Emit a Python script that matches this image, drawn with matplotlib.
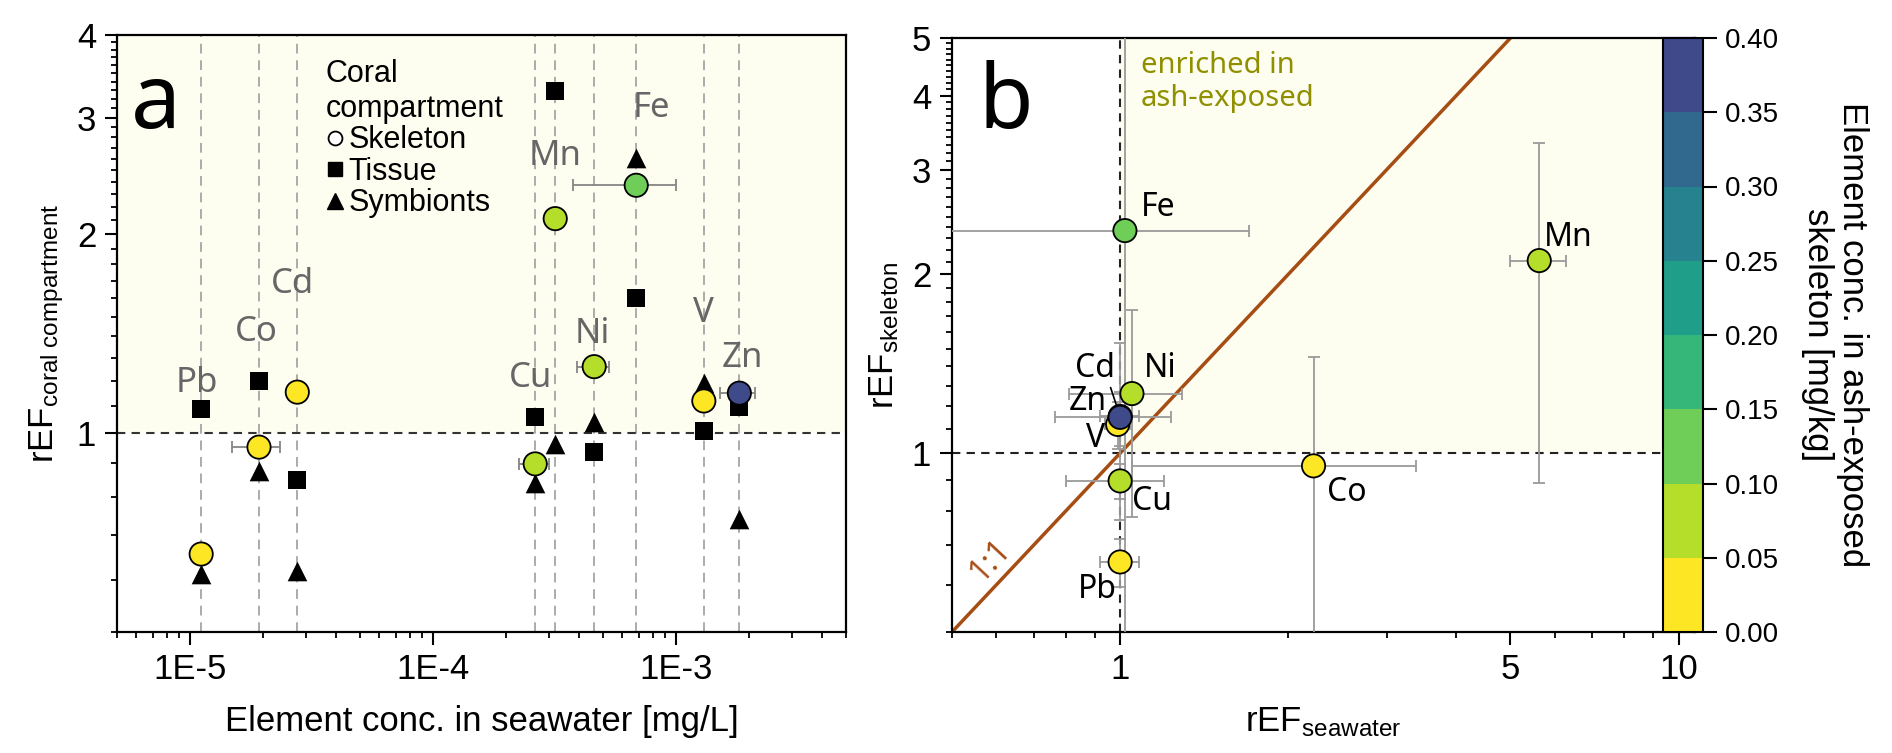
import numpy as np
import matplotlib.pyplot as plt
import matplotlib.cm as cm
from matplotlib.colors import ListedColormap, BoundaryNorm
from matplotlib.lines import Line2D
from matplotlib.patches import Rectangle
from matplotlib.ticker import FixedLocator, FixedFormatter, NullFormatter, FormatStrFormatter

plt.rcParams['font.family'] = ['Liberation Sans', 'DejaVu Sans']
plt.rcParams['mathtext.fontset'] = 'custom'
plt.rcParams['mathtext.rm'] = 'Liberation Sans'
plt.rcParams['mathtext.it'] = 'Liberation Sans:italic'

# data
elements = ['Pb', 'Co', 'Cd', 'Cu', 'Mn', 'Ni', 'Fe', 'V', 'Zn']
sw_conc = [1.11e-5, 1.92e-5, 2.76e-5, 2.63e-4, 3.18e-4, 4.60e-4, 6.85e-4, 1.30e-3, 1.82e-3]
sw_conc_err = [0, 0.43e-5, 0, 0.38e-4, 0, 0.7e-4, 3.1e-4, 0, 0.3e-3]
ref_skeleton = [0.656, 0.952, 1.153, 0.898, 2.11, 1.26, 2.37, 1.118, 1.149]
ref_tissue = [1.087, 1.20, 0.849, 1.057, 3.29, 0.936, 1.60, 1.007, 1.095]
ref_symbionts = [0.612, 0.876, 0.618, 0.84, 0.962, 1.04, 2.61, 1.19, 0.741]
skel_conc = [0.02, 0.03, 0.01, 0.07, 0.08, 0.09, 0.12, 0.04, 0.38]   # mg/kg

# panel b
ref_seawater = [1.0, 2.22, 1.0, 1.0, 5.63, 1.05, 1.02, 0.99, 1.0]
ref_seawater_err = [0.08, 1.17, 0.08, 0.2, 0.65, 0.24, 0.68, 0.05, 0.235]
ref_skeleton_err = [0.06, 0.5, 0.38, 0.06, 1.22, 0.48, 3.0, 0.1, 0.12]
one_to_one = [0.5, 5]

# label positions
label_a_y = [1.19, 1.42, 1.68, 1.21, 2.62, 1.41, 3.10, 1.52, 1.30]
label_a_x = [1.07e-5, 1.87e-5, 2.63e-5, 2.51e-4, 3.18e-4, 4.51e-4, 7.89e-4, 1.29e-3, 1.87e-3]
label_b_x = [0.91, 2.55, 0.902, 1.14, 6.35, 1.18, 1.17, 0.902, 0.876]
label_b_y = [0.59, 0.857, 1.39, 0.83, 2.31, 1.39, 2.59, 1.06, 1.22]

bounds = np.arange(0, 0.401, 0.05)
cmap = ListedColormap(['#fde725', '#b5de2b', '#6ece58', '#35b779',
                       '#1f9e89', '#26828e', '#31688e', '#3e4a89'])
norm = BoundaryNorm(bounds, cmap.N)

cream = '#fdfdf0'
hum = ['Noto Sans', 'DejaVu Sans']

W, H = 1892, 753
def px_axes(l, t, r, b):
    return [l / W, 1 - b / H, (r - l) / W, (b - t) / H]

fig = plt.figure(figsize=(W / 100, H / 100), dpi=100)
ax_a = fig.add_axes(px_axes(117, 35, 846, 632))
ax_b = fig.add_axes(px_axes(952, 38, 1695, 632))
cax = fig.add_axes(px_axes(1663, 38, 1703, 632))

def style_axis(ax):
    for s in ax.spines.values():
        s.set_linewidth(1.6)
    ax.tick_params(which='major', direction='out', length=9, width=1.5, labelsize=25, pad=6)
    ax.tick_params(which='minor', direction='out', length=4, width=1.3)
    ax.yaxis.set_minor_formatter(NullFormatter())
    ax.xaxis.set_minor_formatter(NullFormatter())

# ---------- panel a ----------
ax_a.set_xscale('log')
ax_a.set_yscale('log')
ax_a.set_xlim(5e-6, 5e-3)
ax_a.set_ylim(0.5, 4)
ax_a.axhspan(1, 4, color=cream, lw=0, zorder=0)
for x in sw_conc:
    ax_a.axvline(x, color='#ababab', ls=(0, (5, 3.5)), lw=1.4, zorder=1)
ax_a.axhline(1, color='#333333', ls=(0, (4, 3)), lw=1.5, zorder=1)

idx = [i for i, e in enumerate(sw_conc_err) if e > 0]
ax_a.errorbar([sw_conc[i] for i in idx], [ref_skeleton[i] for i in idx],
              xerr=[sw_conc_err[i] for i in idx], fmt='none', ecolor='#858585',
              elinewidth=1.3, capsize=4, capthick=1.3, zorder=2)
ax_a.scatter(sw_conc, ref_tissue, marker='s', s=150, c='k', lw=0, zorder=3)
ax_a.scatter(sw_conc, ref_symbionts, marker='^', s=200, c='k', lw=0, zorder=3)
ax_a.scatter(sw_conc, ref_skeleton, c=skel_conc, cmap=cmap, norm=norm, s=280,
             edgecolors='k', linewidths=1.3, zorder=5)

for el, x, y in zip(elements, label_a_x, label_a_y):
    ax_a.text(x, y, el, ha='center', va='center', fontsize=25, color='#666666',
              family=hum, zorder=6)

ax_a.xaxis.set_major_locator(FixedLocator([1e-5, 1e-4, 1e-3]))
ax_a.xaxis.set_major_formatter(FixedFormatter(['1E-5', '1E-4', '1E-3']))
ax_a.xaxis.set_minor_locator(FixedLocator([m * 10.0 ** e for e in (-6, -5, -4, -3)
                                           for m in range(2, 10)]))
ax_a.yaxis.set_major_locator(FixedLocator([1, 2, 3, 4]))
ax_a.yaxis.set_major_formatter(FixedFormatter(['1', '2', '3', '4']))
ax_a.yaxis.set_minor_locator(FixedLocator(np.arange(0.5, 4.0, 0.1)))
style_axis(ax_a)
ax_a.set_xlabel('Element conc. in seawater [mg/L]', fontsize=25, labelpad=14)
ax_a.set_ylabel(r'rEF$_{\mathrm{coral\ compartment}}$', fontsize=25, labelpad=8)
ax_a.text(0.0535, 0.844, 'a', transform=ax_a.transAxes, ha='center', va='baseline',
          fontsize=64, family=hum)

handles = [Line2D([], [], ls='none', marker='o', mfc='white', mec='k', mew=1.3, ms=10),
           Line2D([], [], ls='none', marker='s', color='k', ms=10),
           Line2D([], [], ls='none', marker='^', color='k', ms=12)]
leg = ax_a.legend(handles, ['Skeleton', 'Tissue', 'Symbionts'], title='Coral\ncompartment',
                  loc='upper left', bbox_to_anchor=(0.265, 0.985), frameon=False,
                  fontsize=22, title_fontsize=22, handlelength=0.6, handletextpad=0.15,
                  labelspacing=0.05, borderpad=0, alignment='left')

# ---------- panel b ----------
ax_b.set_xscale('log')
ax_b.set_yscale('log')
ax_b.set_xlim(0.5, 10.7)
ax_b.set_ylim(0.5, 5)
ax_b.add_patch(Rectangle((1, 1), 20, 10, color=cream, lw=0, zorder=0))
ax_b.axvline(1, color='#222222', ls=(0, (4, 3)), lw=1.5, zorder=1)
ax_b.axhline(1, color='#222222', ls=(0, (4, 3)), lw=1.5, zorder=1)
ax_b.plot(one_to_one, one_to_one, color='#a64d14', lw=2.5, zorder=2)
ax_b.errorbar(ref_seawater, ref_skeleton, xerr=ref_seawater_err, yerr=ref_skeleton_err,
              fmt='none', ecolor='#9a9a9a', elinewidth=1.3, capsize=4, capthick=1.3,
              zorder=3)
ax_b.scatter(ref_seawater, ref_skeleton, c=skel_conc, cmap=cmap, norm=norm, s=280,
             edgecolors='k', linewidths=1.3, zorder=5)

for el, x, y, px, py in zip(elements, label_b_x, label_b_y, ref_seawater, ref_skeleton):
    if el == 'Cd':
        ax_b.annotate(el, xy=(px, py), xytext=(x, y), ha='center', va='center',
                      fontsize=23, family=hum, zorder=6,
                      arrowprops=dict(arrowstyle='-', lw=1.2, color='k',
                                      relpos=(0.85, 0.05), shrinkA=0, shrinkB=8))
    else:
        ax_b.text(x, y, el, ha='center', va='center', fontsize=23, family=hum, zorder=6)

ax_b.text(0.585, 0.66, '1:1', rotation=47, ha='center', va='center', fontsize=23,
          color='#a64d14', family=hum)
ax_b.text(1.09, 4.75, 'enriched in\nash-exposed', ha='left', va='top', fontsize=21,
          color='#8f8f00', family=hum, linespacing=1.15)
ax_b.text(0.0727, 0.848, 'b', transform=ax_b.transAxes, ha='center', va='baseline',
          fontsize=64, family=hum)

ax_b.xaxis.set_major_locator(FixedLocator([1, 5, 10]))
ax_b.xaxis.set_major_formatter(FixedFormatter(['1', '5', '10']))
ax_b.xaxis.set_minor_locator(FixedLocator([0.5, 0.6, 0.7, 0.8, 0.9, 2, 3, 4, 6, 7, 8, 9]))
ax_b.yaxis.set_major_locator(FixedLocator([1, 2, 3, 4, 5]))
ax_b.yaxis.set_major_formatter(FixedFormatter(['1', '2', '3', '4', '5']))
ax_b.yaxis.set_minor_locator(FixedLocator(np.arange(0.5, 5.0, 0.1)))
style_axis(ax_b)
ax_b.set_xlabel(r'rEF$_{\mathrm{seawater}}$', fontsize=25, labelpad=14)
ax_b.set_ylabel(r'rEF$_{\mathrm{skeleton}}$', fontsize=25, labelpad=8)

# ---------- colorbar ----------
cb = fig.colorbar(cm.ScalarMappable(norm=norm, cmap=cmap), cax=cax, ticks=bounds)
cb.ax.yaxis.set_major_formatter(FormatStrFormatter('%.2f'))
cb.outline.set_linewidth(1.5)
cax.tick_params(length=10, width=1.5, labelsize=20, pad=6)
cax.minorticks_off()
fig.text(1835 / W, 1 - 335 / H, 'Element conc. in ash-exposed\nskeleton [mg/kg]',
         rotation=270, ha='center', va='center', multialignment='center',
         fontsize=25, linespacing=1.1)

fig.savefig('out.png', dpi=100)
